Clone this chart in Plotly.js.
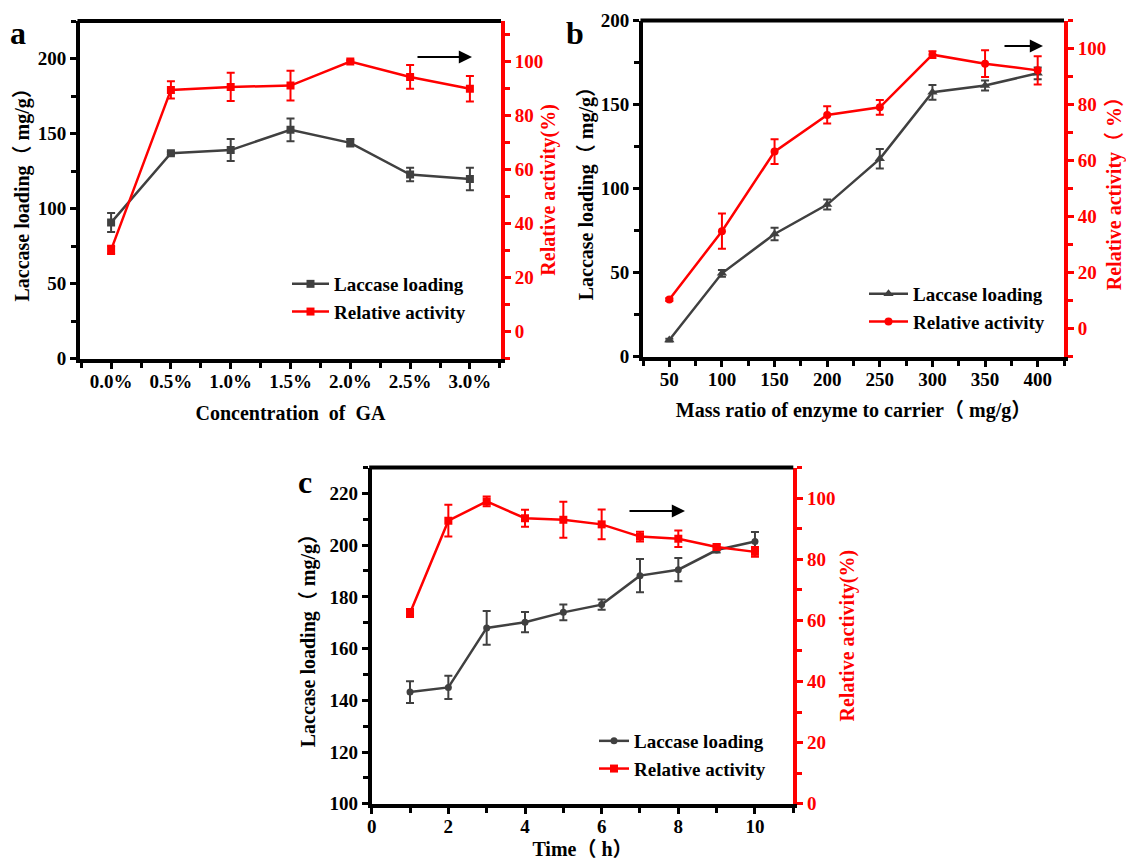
<!DOCTYPE html>
<html>
<head>
<meta charset="utf-8">
<script src="https://cdn.plot.ly/plotly-3.0.1.min.js"></script>
<style>html,body{margin:0;padding:0;background:#fff;}#chart{width:1126px;height:860px;}</style>
</head>
<body>
<div id="chart"></div>
<script>
// ---------- data ----------
const gaConc = [0, 0.5, 1.0, 1.5, 2.0, 2.5, 3.0];
const gaTickLabels = ['0.0%', '0.5%', '1.0%', '1.5%', '2.0%', '2.5%', '3.0%'];
const aLoading = [90.7, 136.9, 139.0, 152.5, 143.8, 122.7, 119.8];
const aLoadingErr = [6.3, 1.0, 7.3, 7.6, 2.5, 4.5, 7.5];
const aActivity = [30.3, 89.5, 90.6, 91.1, 100.0, 94.3, 89.9];
const aActivityErr = [1.5, 3.2, 5.2, 5.5, 0.5, 4.4, 4.7];

const massRatio = [50, 100, 150, 200, 250, 300, 350, 400];
const bLoading = [9.9, 49.6, 73.0, 90.5, 117.7, 157.3, 161.3, 168.6];
const bLoadingErr = [0.8, 2.0, 3.7, 3.0, 5.8, 4.4, 3.0, 3.5];
const bActivity = [10.4, 34.8, 63.2, 76.3, 79.0, 97.8, 94.6, 92.2];
const bActivityErr = [0.5, 6.3, 4.4, 3.1, 2.6, 1.2, 4.8, 5.0];

const timeH = [1, 2, 3, 4, 5, 6, 7, 8, 9, 10];
const cLoading = [143.2, 145.0, 168.0, 170.2, 174.0, 177.0, 188.2, 190.5, 198.1, 201.4];
const cLoadingErr = [4.2, 4.5, 6.5, 3.9, 3.0, 2.0, 6.4, 4.5, 1.0, 3.7];
const cActivity = [62.4, 92.6, 98.9, 93.4, 92.9, 91.4, 87.4, 86.7, 84.0, 82.4];
const cActivityErr = [1.3, 5.2, 1.6, 2.8, 5.9, 4.9, 1.6, 2.7, 0.8, 1.6];

const seriesNames = ['Laccase loading', 'Relative activity'];

// ---------- style ----------
const W = 1126, H = 860;
const FONT = '"Liberation Serif", "Times New Roman", "Noto Sans CJK SC", serif';
const GREY = '#404040';
const RED = '#ff0000';
const px = v => v / W;
const py = v => 1 - v / H;

function tr(x, y, err, color, symbol, size, xa, ya, name, legend) {
  return {
    type: 'scatter', mode: 'lines+markers', x: x, y: y, name: name,
    xaxis: xa, yaxis: ya, legend: legend,
    line: {color: color, width: 2.5},
    marker: {color: color, symbol: symbol, size: size},
    error_y: {type: 'data', array: err, visible: true, color: color, thickness: 2, width: 4}
  };
}

const data = [
  tr(gaConc, aLoading, aLoadingErr, GREY, 'square', 8, 'x', 'y', seriesNames[0], 'legend'),
  tr(gaConc, aActivity, aActivityErr, RED, 'square', 8, 'x', 'y2', seriesNames[1], 'legend'),
  tr(massRatio, bLoading, bLoadingErr, GREY, 'triangle-up', 9, 'x2', 'y3', seriesNames[0], 'legend2'),
  tr(massRatio, bActivity, bActivityErr, RED, 'circle', 8, 'x2', 'y4', seriesNames[1], 'legend2'),
  tr(timeH, cLoading, cLoadingErr, GREY, 'circle', 7, 'x3', 'y5', seriesNames[0], 'legend3'),
  tr(timeH, cActivity, cActivityErr, RED, 'square', 8, 'x3', 'y6', seriesNames[1], 'legend3')
];

function tf(color) { return {family: FONT, size: 19, color: color, weight: 'bold'}; }
function titleObj(text, color, standoff) {
  return {text: text, font: {family: FONT, size: 20, color: color, weight: 'bold'}, standoff: standoff};
}
function xAx(domain, anchor, range, extra) {
  return Object.assign({
    domain: domain, anchor: anchor, range: range, showgrid: false, zeroline: false,
    showline: true, linecolor: 'black', linewidth: 4, mirror: false,
    ticks: 'outside', ticklen: 6, tickwidth: 3, tickcolor: 'black',
    ticklabelstandoff: -4,
    tickfont: tf('black'), automargin: false
  }, extra);
}
function yAx(domain, anchor, range, dtick, mdtick, extra) {
  return Object.assign({
    domain: domain, anchor: anchor, range: range, showgrid: false, zeroline: false,
    showline: true, linecolor: 'black', linewidth: 4, mirror: false,
    ticks: 'outside', ticklen: 6, tickwidth: 3, tickcolor: 'black',
    tick0: 0, dtick: dtick,
    minor: {tick0: 0, dtick: mdtick, ticks: 'outside', ticklen: 5, tickwidth: 3, tickcolor: 'black', showgrid: false},
    tickfont: tf('black'), automargin: false
  }, extra);
}
function yRight(overlay, anchor, range, dtick, mdtick, titleText, standoff) {
  return {
    overlaying: overlay, anchor: anchor, side: 'right', range: range,
    showgrid: false, zeroline: false, showline: true, linecolor: RED, linewidth: 4,
    ticks: 'outside', ticklen: 6, tickwidth: 3, tickcolor: RED,
    tick0: 0, dtick: dtick,
    minor: {tick0: 0, dtick: mdtick, ticks: 'outside', ticklen: 5, tickwidth: 3, tickcolor: RED, showgrid: false},
    tickfont: tf(RED), automargin: false,
    title: titleObj(titleText, RED, standoff)
  };
}

const domA = {x: [px(80), px(501)], y: [py(358.7), py(21)]};
const domB = {x: [px(643), px(1064)], y: [py(356.7), py(20.5)]};
const domC = {x: [px(371.7), px(793.3)], y: [py(803.8), py(467.5)]};

function legendObj(x, y, itemwidth) {
  return {x: px(x), y: py(y), xanchor: 'left', yanchor: 'top', bgcolor: 'rgba(0,0,0,0)',
    font: {family: FONT, size: 19, color: 'black', weight: 'bold'}, itemwidth: itemwidth,
    tracegroupgap: 0, traceorder: 'normal'};
}

function arrow(x0, x1, y) {
  return {xref: 'paper', yref: 'paper', x: px(x1), y: py(y), ax: x0 - x1, ay: 0,
    axref: 'pixel', ayref: 'pixel', showarrow: true, arrowhead: 2, arrowsize: 1.2,
    arrowwidth: 2.2, arrowcolor: 'black', text: ''};
}
function panelLabel(t, x, y) {
  return {xref: 'paper', yref: 'paper', x: px(x), y: py(y), xanchor: 'center', yanchor: 'middle',
    showarrow: false, text: t, font: {family: FONT, size: 32, color: 'black', weight: 'bold'}};
}
function topLine(xa, ya) {
  return {type: 'line', xref: xa + ' domain', yref: ya + ' domain', x0: -0.006, x1: 1.0, y0: 1, y1: 1,
    line: {color: 'black', width: 4}, layer: 'above'};
}

const layout = {
  width: W, height: H,
  margin: {l: 0, r: 0, t: 0, b: 0},
  paper_bgcolor: 'white', plot_bgcolor: 'rgba(0,0,0,0)',
  showlegend: true,
  font: {family: FONT, size: 19, color: 'black'},
  xaxis: xAx(domA.x, 'y', [-0.26, 3.26], {
    tickmode: 'array', tickvals: gaConc, ticktext: gaTickLabels,
    minor: {tickmode: 'linear', tick0: 0, dtick: 0.25, ticks: 'outside', ticklen: 5, tickwidth: 3, tickcolor: 'black', showgrid: false},
    title: titleObj('Concentration\u00a0 of\u00a0 GA', 'black', 16)
  }),
  yaxis: yAx(domA.y, 'x', [0, 225], 50, 25, {title: titleObj('Laccase loading（ mg/g）', 'black', 4)}),
  yaxis2: yRight('y', 'x', [-10, 115], 20, 10, 'Relative activity(%)', 0),

  xaxis2: xAx(domB.x, 'y3', [25, 425], {
    tick0: 0, dtick: 50,
    minor: {tick0: 0, dtick: 25, ticks: 'outside', ticklen: 5, tickwidth: 3, tickcolor: 'black', showgrid: false},
    title: titleObj('Mass ratio of enzyme to carrier（ mg/g）', 'black', 15)
  }),
  yaxis3: yAx(domB.y, 'x2', [0, 200], 50, 25, {title: titleObj('Laccase loading（ mg/g）', 'black', 3)}),
  yaxis4: yRight('y3', 'x2', [-10, 110], 20, 10, 'Relative activity（ %）', 3),

  xaxis3: xAx(domC.x, 'y5', [0, 11], {
    tick0: 0, dtick: 2,
    minor: {tick0: 0, dtick: 1, ticks: 'outside', ticklen: 5, tickwidth: 3, tickcolor: 'black', showgrid: false},
    title: titleObj('Time（ h）', 'black', 12)
  }),
  yaxis5: yAx(domC.y, 'x3', [100, 230], 20, 10, {title: titleObj('Laccase loading（ mg/g）', 'black', 9)}),
  yaxis6: yRight('y5', 'x3', [0, 110], 20, 10, 'Relative activity(%)', 6),

  legend: legendObj(287, 265, 37),
  legend2: legendObj(864, 275, 39),
  legend3: legendObj(594, 722, 30),

  shapes: [topLine('x', 'y'), topLine('x2', 'y3'), topLine('x3', 'y5')],

  annotations: [
    arrow(416, 472, 57), arrow(1003, 1043, 46), arrow(628, 685, 511),
    panelLabel('a', 17.5, 33), panelLabel('b', 575, 33), panelLabel('c', 304.7, 482)
  ]
};

Plotly.newPlot('chart', data, layout, {displayModeBar: false, staticPlot: true});
</script>
</body>
</html>
